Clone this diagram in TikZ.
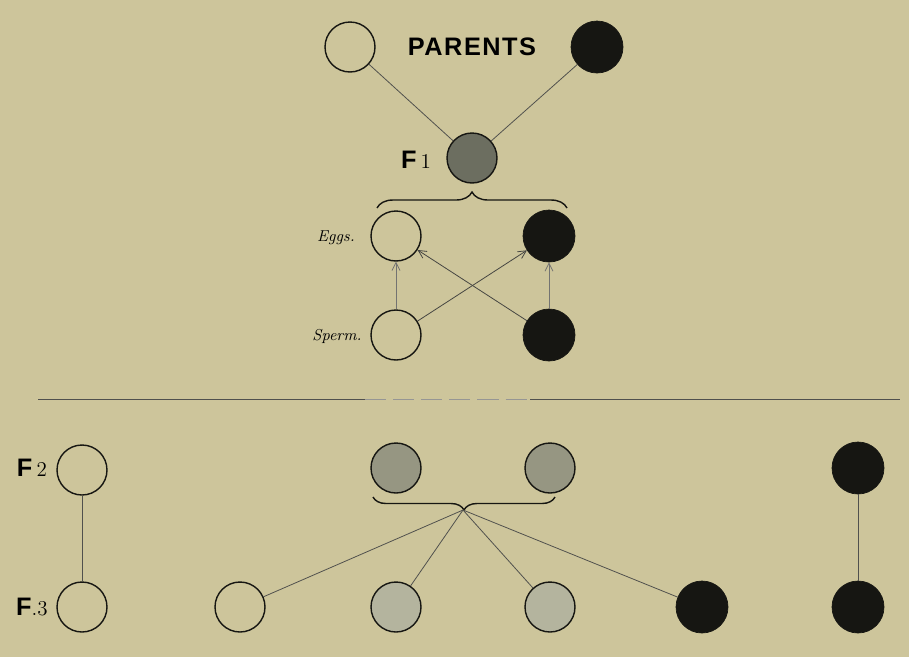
\documentclass[tikz,border=0pt]{standalone}
\usepackage{fontspec}
\setsansfont{Liberation Sans}
\usetikzlibrary{arrows.meta,decorations.pathreplacing}
\definecolor{paper}{RGB}{205,197,155}
\definecolor{ink}{RGB}{22,22,18}
\definecolor{hybdark}{RGB}{108,110,96}
\definecolor{hybmid}{RGB}{150,150,130}
\definecolor{hyblight}{RGB}{180,180,158}

\begin{document}
\begin{tikzpicture}[x=0.02cm, y=-0.02cm, >={Straight Barb[length=1.6mm,width=1.6mm]},
  wc/.style={circle, draw=ink, thick, fill=paper, minimum size=1cm, inner sep=0pt},
  bc/.style={circle, draw=ink, fill=ink, minimum size=1.04cm, inner sep=0pt},
  gc/.style={circle, draw=ink, thick, minimum size=1cm, inner sep=0pt},
  gen/.style={font=\sffamily\bfseries\Large},
  ital/.style={font=\itshape\small},
  ln/.style={draw=ink!75, line width=0.45pt},
  arr/.style={->, draw=ink!80, line width=0.45pt},
  brc/.style={draw=ink, thick, decorate}]
\fill[paper] (0,0) rectangle (909,657);
% parents and F1
\node[wc] (pw) at (350,47) {};
\node[bc] (pb) at (597,47) {};
\node[gen] (par) at (472,47) {\addfontfeature{LetterSpace=6}PARENTS};
\node[gc, fill=hybdark] (f1) at (472,158) {};
\node[gen] (f1l) at (416,160) {F\,{\rmfamily\mdseries\large 1}};
\draw[ln] (pw) -- (f1);
\draw[ln] (pb) -- (f1);
% gametes
\coordinate (bral) at (377,208);
\coordinate (brar) at (567,208);
\draw[brc, decoration={brace, amplitude=0.32cm}] (bral) -- (brar);
\node[wc] (ew) at (396,236) {};
\node[bc] (eb) at (549,236) {};
\node[wc] (sw) at (396,335) {};
\node[bc] (sb) at (549,335) {};
\node[ital] (egl) at (336,238) {Eggs.};
\node[ital] (spl) at (337,336) {Sperm.};
\draw[arr, ink!60] (sw) -- (ew);
\draw[arr, ink!60] (sb) -- (eb);
\draw[arr] (sw) -- (eb);
\draw[arr] (sb) -- (ew);
% separating rule
\coordinate (rl) at (38,399);
\coordinate (rm1) at (365,399);
\coordinate (rm2) at (530,399);
\coordinate (rr) at (900,399);
\draw[ln] (rl) -- (rm1);
\draw[ink!45, line width=0.4pt, dash pattern=on 12pt off 4pt] (rm1) -- (rm2);
\draw[ln] (rm2) -- (rr);
% F2
\node[gen] (f2l) at (32,468) {F\,{\rmfamily\mdseries\large 2}};
\node[wc] (f2a) at (82,470) {};
\node[gc, fill=hybmid] (f2b) at (396,468) {};
\node[gc, fill=hybmid] (f2c) at (550,468) {};
\node[bc] (f2d) at (858,468) {};
\coordinate (brbr) at (555,497);
\coordinate (brbl) at (373,497);
\draw[brc, decoration={brace, amplitude=0.26cm}] (brbr) -- (brbl);
\coordinate (tip) at (463,510);
% F3
\node[gen] (f3l) at (32,607) {F{\rmfamily\mdseries\large .3}};
\node[wc] (f3a) at (82,607) {};
\node[wc] (f3b) at (240,607) {};
\node[gc, fill=hyblight] (f3c) at (396,607) {};
\node[gc, fill=hyblight] (f3d) at (550,607) {};
\node[bc] (f3e) at (702,607) {};
\node[bc] (f3f) at (858,607) {};
\draw[ln] (f2a) -- (f3a);
\draw[ln] (f2d) -- (f3f);
\draw[ln] (tip) -- (f3b);
\draw[ln] (tip) -- (f3c);
\draw[ln] (tip) -- (f3d);
\draw[ln] (tip) -- (f3e);
\end{tikzpicture}
\end{document}
